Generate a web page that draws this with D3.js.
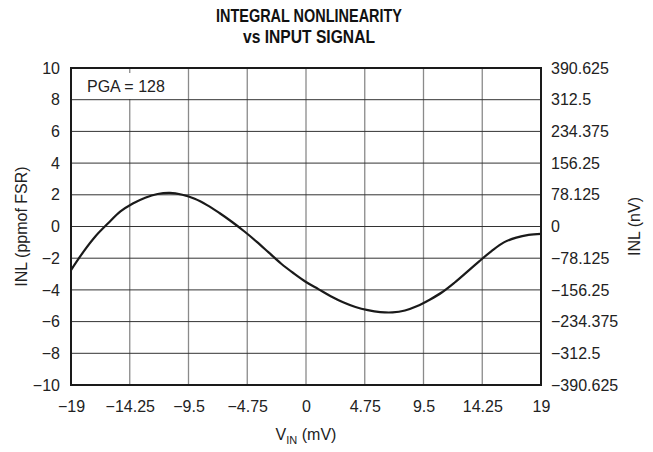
<!DOCTYPE html>
<html>
<head>
<meta charset="utf-8">
<script src="https://d3js.org/d3.v7.min.js"></script>
<style>
  body { margin: 0; background: #fff; }
  svg { font-family: "Liberation Sans", Arial, sans-serif; }
</style>
</head>
<body>
<svg width="653" height="452"></svg>
<script>
// curve: input (mV) vs INL (ppm of FSR)
const vin = [-19, -18, -17, -16, -15, -14, -13, -12, -11, -10, -9, -8, -7, -6, -5, -4, -3, -2, -1, 0,
             1, 2, 3, 4, 5, 6, 7, 8, 9, 10, 11, 12, 13, 14, 15, 16, 17, 18, 19];
const inl = [-2.75, -1.6, -0.6, 0.2, 0.95, 1.45, 1.82, 2.05, 2.12, 2.0, 1.75, 1.35, 0.85, 0.3, -0.3, -0.95, -1.65, -2.35, -2.95, -3.5,
             -3.95, -4.4, -4.78, -5.08, -5.28, -5.4, -5.42, -5.3, -5.02, -4.62, -4.15, -3.55, -2.88, -2.2, -1.55, -1.0, -0.7, -0.53, -0.47];

const xTicks = [-19, -14.25, -9.5, -4.75, 0, 4.75, 9.5, 14.25, 19];
const xTickLabels = ["\u221219", "\u221214.25", "\u22129.5", "\u22124.75", "0", "4.75", "9.5", "14.25", "19"];
const yTicks = [-10, -8, -6, -4, -2, 0, 2, 4, 6, 8, 10];
const yRightLabels = ["\u2212390.625", "\u2212312.5", "\u2212234.375", "\u2212156.25", "\u221278.125", "0", "78.125", "156.25", "234.375", "312.5", "390.625"];

const margin = { top: 68, right: 112, bottom: 67, left: 71 };
const width = 653 - margin.left - margin.right;
const height = 452 - margin.top - margin.bottom;
const fs = "16px";

const svg = d3.select("svg");
const g = svg.append("g")
  .attr("transform", `translate(${margin.left},${margin.top})`);

const x = d3.scaleLinear().domain([-19, 19]).range([0, width]);
const y = d3.scaleLinear().domain([-10, 10]).range([height, 0]);

// grid: vertical lines grey, horizontal darker
g.append("g")
  .selectAll("line")
  .data(xTicks.slice(1, -1))
  .join("line")
  .attr("x1", d => x(d)).attr("x2", d => x(d))
  .attr("y1", 0).attr("y2", height)
  .attr("stroke", "#8a8a8a")
  .attr("stroke-width", 1.3);

g.append("g")
  .selectAll("line")
  .data(yTicks.slice(1, -1))
  .join("line")
  .attr("x1", 0).attr("x2", width)
  .attr("y1", d => y(d)).attr("y2", d => y(d))
  .attr("stroke", "#333")
  .attr("stroke-width", 1);

// axes (labels only)
const xAxis = g.append("g")
  .attr("transform", `translate(0,${height})`)
  .call(d3.axisBottom(x).tickValues(xTicks).tickSize(0).tickPadding(16)
    .tickFormat((d, i) => xTickLabels[i]));

const yAxis = g.append("g")
  .call(d3.axisLeft(y).tickValues(yTicks).tickSize(0).tickPadding(11)
    .tickFormat(d => d < 0 ? "\u2212" + Math.abs(d) : d));

const yAxisR = g.append("g")
  .attr("transform", `translate(${width},0)`)
  .call(d3.axisRight(y).tickValues(yTicks).tickSize(0).tickPadding(10)
    .tickFormat((d, i) => yRightLabels[i]));

[xAxis, yAxis, yAxisR].forEach(a => {
  a.select(".domain").remove();
  a.selectAll("text").style("font-size", fs).attr("fill", "#222");
});

// PGA label with white background
g.append("rect")
  .attr("x", 10).attr("y", 5)
  .attr("width", 100).attr("height", 26)
  .attr("fill", "#fff");

g.append("text")
  .attr("x", 16).attr("y", 24)
  .style("font-size", fs)
  .attr("fill", "#222")
  .text("PGA = 128");

// curve
const line = d3.line()
  .x(d => x(d[0]))
  .y(d => y(d[1]))
  .curve(d3.curveCatmullRom);

g.append("path")
  .datum(vin.map((v, i) => [v, inl[i]]))
  .attr("d", line)
  .attr("fill", "none")
  .attr("stroke", "#1a1a1a")
  .attr("stroke-width", 2.2);

// frame
g.append("rect")
  .attr("width", width).attr("height", height)
  .attr("fill", "none")
  .attr("stroke", "#1a1a1a")
  .attr("stroke-width", 2);

// title
const cx = margin.left + width / 2 + 3;
svg.append("text")
  .attr("x", cx).attr("y", 22)
  .attr("text-anchor", "middle")
  .attr("textLength", 186).attr("lengthAdjust", "spacingAndGlyphs")
  .style("font-size", "17.5px").style("font-weight", "bold")
  .attr("fill", "#111")
  .text("INTEGRAL NONLINEARITY");
svg.append("text")
  .attr("x", cx).attr("y", 43)
  .attr("text-anchor", "middle")
  .attr("textLength", 132).attr("lengthAdjust", "spacingAndGlyphs")
  .style("font-size", "17.5px").style("font-weight", "bold")
  .attr("fill", "#111")
  .text("vs INPUT SIGNAL");

// x label with subscript
const xl = svg.append("text")
  .attr("x", margin.left + width / 2)
  .attr("y", 440)
  .attr("text-anchor", "middle")
  .style("font-size", fs)
  .attr("fill", "#222");
xl.append("tspan").text("V");
xl.append("tspan").attr("dy", 4).style("font-size", "11px").text("IN");
xl.append("tspan").attr("dy", -4).text(" (mV)");

// left y label
svg.append("text")
  .attr("transform", `translate(27,${margin.top + height / 2}) rotate(-90)`)
  .attr("text-anchor", "middle")
  .style("font-size", fs)
  .attr("fill", "#222")
  .text("INL (ppmof FSR)");

// right y label
svg.append("text")
  .attr("transform", `translate(640,${margin.top + height / 2}) rotate(-90)`)
  .attr("text-anchor", "middle")
  .style("font-size", fs)
  .attr("fill", "#222")
  .text("INL (nV)");
</script>
</body>
</html>
